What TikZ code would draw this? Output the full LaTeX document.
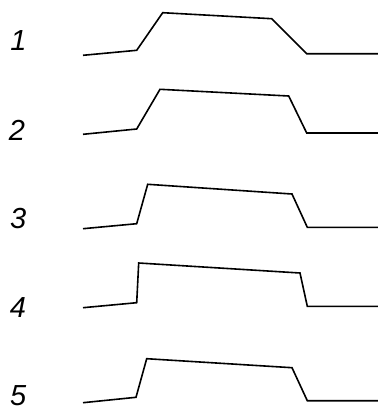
\documentclass[tikz,border=0pt]{standalone}
\usepackage{fontspec}
\setmainfont{Liberation Sans}
\usepackage{tikz}
\usetikzlibrary{positioning}

\begin{document}
\begin{tikzpicture}[
  x=1pt,y=-1pt,
  num/.style={font=\fontsize{29}{29}\selectfont\itshape,inner sep=0pt,anchor=center},
  wave/.style={line width=1.6pt,color=black,line join=miter}
]
  \useasboundingbox (0,0) rectangle (378,408);
  % row labels
  \node[num] (lab1) at (18.5,41) {1};
  \node[num] (lab2) at (17,130) {2};
  \node[num] (lab3) at (18.3,219) {3};
  \node[num] (lab4) at (18,308) {4};
  \node[num] (lab5) at (18.3,395.5) {5};
  % pulses
  \draw[wave] (83,55.3) -- (136.7,50.3) -- (162.7,12.7) -- (271.7,18.7) -- (306.7,53.7) -- (378,53.7);
  \draw[wave] (83,134.3) -- (136.7,129) -- (160,89.3) -- (288.7,96) -- (306.7,133) -- (378,133);
  \draw[wave] (83,228.7) -- (136.7,223.7) -- (147.7,184.3) -- (292,194) -- (307.3,227.3) -- (378,227.3);
  \draw[wave] (83,307.7) -- (136.7,302.7) -- (138.7,263) -- (300,273) -- (307.3,306.3) -- (378,306.3);
  \draw[wave] (83,402.7) -- (136,397.3) -- (146.7,358.7) -- (292,367.7) -- (307.3,400.7) -- (378,400.7);
\end{tikzpicture}
\end{document}
